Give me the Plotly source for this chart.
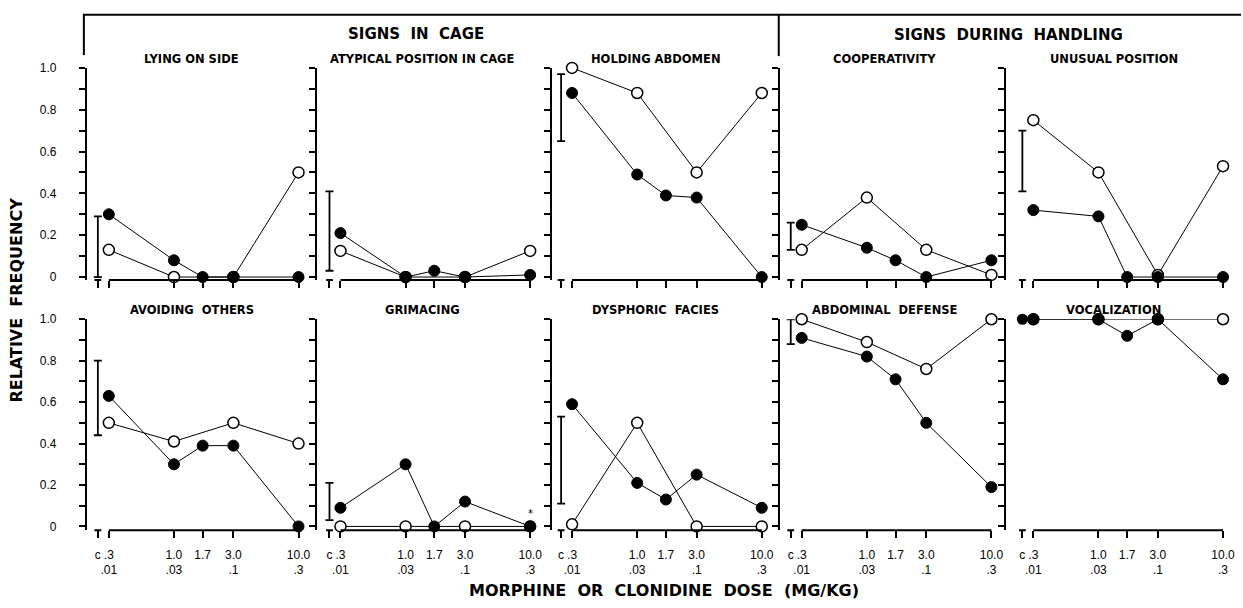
import numpy as np
import plotly.graph_objects as go

W, H = 1243, 608

# ---------------- data ----------------
panel_titles = ["LYING ON SIDE", "ATYPICAL POSITION IN CAGE", "HOLDING ABDOMEN",
                "COOPERATIVITY", "UNUSUAL POSITION",
                "AVOIDING  OTHERS", "GRIMACING", "DYSPHORIC  FACIES",
                "ABDOMINAL  DEFENSE", "VOCALIZATION"]

c_dose = 0.245                                  # control ("c") position on dose axis
morphine_dose = [0.3, 1.0, 1.7, 3.0, 10.0]      # mg/kg
clonidine_dose = [0.3, 1.0, 3.0, 10.0]          # plotted at morphine positions (.01 .03 .1 .3)
tick_vals = [c_dose, 0.3, 1.0, 1.7, 3.0, 10.0]
tick_text = ["c", ".3<br>.01", "1.0<br>.03", "1.7", "3.0<br>.1", "10.0<br>.3"]

# filled circles = morphine, open circles = clonidine
lying_m = [0.30, 0.08, 0.0, 0.0, 0.0]
lying_c = [0.13, 0.0, 0.0, 0.50]
atypical_m = [0.21, 0.0, 0.03, 0.0, 0.01]
atypical_c = [0.125, 0.0, 0.0, 0.125]
holding_m = [0.88, 0.49, 0.39, 0.38, 0.0]
holding_c = [1.0, 0.88, 0.50, 0.88]
coop_m = [0.25, 0.14, 0.08, 0.0, 0.08]
coop_c = [0.13, 0.38, 0.13, 0.01]
unusual_m = [0.32, 0.29, 0.0, 0.0, 0.0]
unusual_c = [0.75, 0.50, 0.01, 0.53]
avoid_m = [0.63, 0.30, 0.39, 0.39, 0.0]
avoid_c = [0.50, 0.41, 0.50, 0.40]
grim_m = [0.09, 0.30, 0.0, 0.12, 0.0]
grim_c = [0.0, 0.0, 0.0, 0.0]
dysph_m = [0.59, 0.21, 0.13, 0.25, 0.09]
dysph_c = [0.01, 0.50, 0.0, 0.0]
abdom_m = [0.91, 0.82, 0.71, 0.50, 0.19]
abdom_c = [1.0, 0.89, 0.76, 1.0]
vocal_m = [1.0, 1.0, 0.92, 1.0, 0.71]
vocal_c = [1.0, 1.0, 1.0, 1.0]

# control range (vertical bar at "c"); None = no bar
ctrl_lo = [0.0, 0.03, 0.65, 0.13, 0.41, 0.44, 0.03, 0.11, 0.88, None]
ctrl_hi = [0.29, 0.41, 0.97, 0.26, 0.70, 0.80, 0.21, 0.53, 1.0, None]
vocal_ctrl = 1.0

morph_series = [lying_m, atypical_m, holding_m, coop_m, unusual_m,
                avoid_m, grim_m, dysph_m, abdom_m, vocal_m]
clon_series = [lying_c, atypical_c, holding_c, coop_c, unusual_c,
               avoid_c, grim_c, dysph_c, abdom_c, vocal_c]

# ---------------- layout geometry (pixels) ----------------
axis_px = [87, 318, 553, 781, 1008]     # y-axis line x
p3_px = [109, 341, 573, 803, 1035]      # x of dose .3
px_per_dec = 124.8
row_top = [62, 318]                     # y of value 1.0
row_zero = [275, 529]                   # y of value 0
row_bot = [278, 533]                    # x-axis line y

FONT = "DejaVu Sans"
TFONT = "Liberation Sans"

fig = go.Figure()
layout = dict(width=W, height=H, margin=dict(l=0, r=0, t=0, b=0),
              plot_bgcolor="white", paper_bgcolor="white", showlegend=False,
              font=dict(family=FONT, color="black"))

def fx(px):
    return px / W

def fy(py):
    return 1 - py / H

annotations = []
shapes = []

for i in range(10):
    r, c = divmod(i, 5)
    k = i + 1
    xa = "x" if k == 1 else f"x{k}"
    ya = "y" if k == 1 else f"y{k}"
    ppu = row_zero[r] - row_top[r]
    ymin = -(row_bot[r] - row_zero[r]) / ppu
    left = axis_px[c]
    right = p3_px[c] + 190 + 10
    xr = [np.log10(0.3) - (p3_px[c] - left) / px_per_dec, 1 + 10 / px_per_dec]

    yt = ["" for _ in range(11)]
    if c == 0:
        yt = ["0", "", "0.2", "", "0.4", "", "0.6", "", "0.8", "", "1.0"]
    layout[f"xaxis{k}"] = dict(
        domain=[fx(left), fx(right)], range=xr, type="log", anchor=ya,
        showline=False, showgrid=False, zeroline=False,
        tickvals=tick_vals, ticktext=tick_text if r == 1 else [""] * 6,
        ticks="outside", ticklen=7, tickwidth=1.5, tickcolor="black", tickangle=0,
        tickfont=dict(size=12, family=TFONT), ticklabelstandoff=6)
    layout[f"yaxis{k}"] = dict(
        domain=[fy(row_bot[r]), fy(row_top[r])], range=[ymin, 1.0], anchor=xa,
        showline=True, linewidth=2, linecolor="black", showgrid=False, zeroline=False,
        tickvals=[j / 10 for j in range(11)], ticktext=yt, showticklabels=(c == 0),
        ticks="outside", ticklen=6, tickwidth=1.5, tickcolor="black",
        tickfont=dict(size=12, family=TFONT), ticklabelstandoff=20)

    # x-axis baseline from .3 to 10.0 and the small "c" segment
    shapes.append(dict(type="line", xref=xa, yref=f"{ya} domain",
                       x0=morphine_dose[0], x1=morphine_dose[-1], y0=0, y1=0,
                       line=dict(color="black", width=2)))
    shapes.append(dict(type="line", xref=xa, yref=f"{ya} domain",
                       x0=c_dose / 1.065, x1=c_dose * 1.065, y0=0, y1=0,
                       line=dict(color="black", width=2)))

    # control range bar
    if ctrl_lo[i] is not None:
        fig.add_trace(go.Scatter(
            x=[c_dose], y=[ctrl_hi[i]], mode="markers",
            marker=dict(size=1, color="black"),
            error_y=dict(type="data", symmetric=False, array=[0],
                         arrayminus=[ctrl_hi[i] - ctrl_lo[i]],
                         color="black", thickness=1.8, width=4),
            xaxis=xa, yaxis=ya, cliponaxis=False, hoverinfo="skip"))

    # clonidine (open)
    fig.add_trace(go.Scatter(
        x=clonidine_dose, y=clon_series[i], mode="lines+markers",
        line=dict(color="black", width=1),
        marker=dict(size=11, color="white", line=dict(color="black", width=1.5)),
        xaxis=xa, yaxis=ya, cliponaxis=False))
    # morphine (filled)
    fig.add_trace(go.Scatter(
        x=morphine_dose, y=morph_series[i], mode="lines+markers",
        line=dict(color="black", width=1),
        marker=dict(size=11, color="black", line=dict(color="black", width=1)),
        xaxis=xa, yaxis=ya, cliponaxis=False))

    # panel title
    annotations.append(dict(
        text=f"<b>{panel_titles[i]}</b>", x=fx((left + right) / 2 - 6),
        y=fy(row_top[r] - 9), xref="paper", yref="paper", showarrow=False,
        xanchor="center", yanchor="middle", font=dict(size=11.5, family=FONT)))

# vocalization control point
fig.add_trace(go.Scatter(x=[c_dose], y=[vocal_ctrl], mode="markers",
                         marker=dict(size=11, color="black"),
                         xaxis="x10", yaxis="y10", cliponaxis=False))

# small mark above grimacing 10.0 point
annotations.append(dict(text="*", x=1.0, y=0.06, xref="x7", yref="y7",
                        showarrow=False, font=dict(size=10, family=FONT)))

# section headers and brackets
shapes += [
    dict(type="line", xref="paper", yref="paper", x0=fx(83), x1=1.0, y0=fy(8), y1=fy(8),
         line=dict(color="black", width=2)),
    dict(type="line", xref="paper", yref="paper", x0=fx(84), x1=fx(84), y0=fy(8), y1=fy(49),
         line=dict(color="black", width=2)),
    dict(type="line", xref="paper", yref="paper", x0=fx(780), x1=fx(780), y0=fy(8), y1=fy(50),
         line=dict(color="black", width=2)),
]
annotations += [
    dict(text="<b>SIGNS  IN  CAGE</b>", x=fx(417), y=fy(28), xref="paper", yref="paper",
         showarrow=False, xanchor="center", yanchor="middle", font=dict(size=15, family=FONT)),
    dict(text="<b>SIGNS  DURING  HANDLING</b>", x=fx(1010), y=fy(29), xref="paper", yref="paper",
         showarrow=False, xanchor="center", yanchor="middle", font=dict(size=15, family=FONT)),
    dict(text="<b>RELATIVE  FREQUENCY</b>", x=fx(17), y=fy(298), xref="paper", yref="paper",
         showarrow=False, xanchor="center", yanchor="middle", textangle=-90,
         font=dict(size=16, family=FONT)),
    dict(text="<b>MORPHINE  OR  CLONIDINE  DOSE  (MG/KG)</b>", x=fx(665), y=fy(594),
         xref="paper", yref="paper", showarrow=False, xanchor="center", yanchor="middle",
         font=dict(size=16, family=FONT)),
]
layout["annotations"] = annotations
layout["shapes"] = shapes
fig.update_layout(**layout)
fig.write_html("out.html")
